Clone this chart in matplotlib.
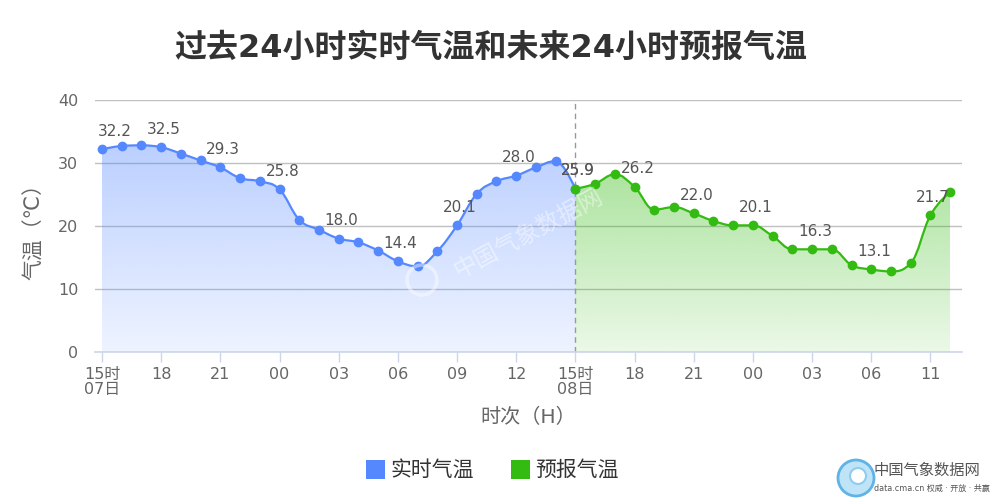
import numpy as np
import matplotlib
matplotlib.use('Agg')
import matplotlib.pyplot as plt
import matplotlib.path as mpath
from matplotlib.patches import PathPatch, Rectangle, Circle

plt.rcParams['font.family'] = ['DejaVu Sans', 'Noto Sans CJK SC']

# 实时气温 (07日15时 ~ 08日15时)
obs_temp = [32.2, 32.7, 32.8, 32.5, 31.5, 30.4, 29.3, 27.6, 27.1, 25.8,
            21.0, 19.4, 18.0, 17.4, 16.1, 14.4, 13.6, 16.0, 20.1, 25.1,
            27.1, 28.0, 29.3, 30.3, 25.9]
# 预报气温 (08日15时起)
fc_temp = [25.9, 26.7, 28.2, 26.2, 22.6, 23.0, 22.0, 20.8, 20.1, 20.1,
           18.4, 16.3, 16.3, 16.3, 13.8, 13.1, 12.8, 14.1, 21.7, 25.4]
tick_labels = ['15时\n07日', '18', '21', '00', '03', '06', '09', '12',
               '15时\n08日', '18', '21', '00', '03', '06', '11']

blue = '#5588ff'
green = '#33bb11'


def spline_path(xs, ys, smooth=1.5):
    # 类似 Highcharts 的 spline 控制点
    n = len(xs)
    lc = [None] * n
    rc = [None] * n
    d = smooth + 1
    for i in range(1, n - 1):
        px, py = xs[i], ys[i]
        lx, ly = xs[i - 1], ys[i - 1]
        nx, ny = xs[i + 1], ys[i + 1]
        lcx = (smooth * px + lx) / d
        lcy = (smooth * py + ly) / d
        rcx = (smooth * px + nx) / d
        rcy = (smooth * py + ny) / d
        corr = ((rcy - lcy) * (rcx - px)) / (rcx - lcx) + py - rcy
        lcy += corr
        rcy += corr
        if lcy > ly and lcy > py:
            lcy = max(ly, py)
            rcy = 2 * py - lcy
        elif lcy < ly and lcy < py:
            lcy = min(ly, py)
            rcy = 2 * py - lcy
        if rcy > py and rcy > ny:
            rcy = max(py, ny)
            lcy = 2 * py - rcy
        elif rcy < py and rcy < ny:
            rcy = min(py, ny)
            lcy = 2 * py - rcy
        lc[i] = (lcx, lcy)
        rc[i] = (rcx, rcy)
    verts = [(xs[0], ys[0])]
    codes = [mpath.Path.MOVETO]
    for i in range(1, n):
        c1 = rc[i - 1] if rc[i - 1] is not None else (xs[i - 1], ys[i - 1])
        c2 = lc[i] if lc[i] is not None else (xs[i], ys[i])
        verts += [c1, c2, (xs[i], ys[i])]
        codes += [mpath.Path.CURVE4] * 3
    return verts, codes


def draw_series(ax, xs, ys, color):
    verts, codes = spline_path(xs, ys)
    # 渐变填充
    fverts = verts + [(xs[-1], 0), (xs[0], 0), (xs[0], ys[0])]
    fcodes = codes + [mpath.Path.LINETO, mpath.Path.LINETO, mpath.Path.CLOSEPOLY]
    fill_path = mpath.Path(fverts, fcodes)
    rgb = matplotlib.colors.to_rgb(color)
    grad = np.zeros((256, 1, 4))
    grad[:, 0, :3] = rgb
    grad[:, 0, 3] = np.linspace(0.4, 0.1, 256)
    im = ax.imshow(grad, extent=(xs[0], xs[-1], 0, max(ys)), aspect='auto',
                   origin='upper', zorder=1, interpolation='bilinear')
    im.set_clip_path(fill_path, transform=ax.transData)
    ax.add_patch(PathPatch(mpath.Path(verts, codes), facecolor='none',
                           edgecolor=color, lw=1.6, zorder=3))
    ax.plot(xs, ys, 'o', color=color, markersize=6, zorder=4)


fig = plt.figure(figsize=(10, 5), dpi=100)
ax = fig.add_axes([0.095, 0.296, 0.867, 0.504])

x_obs = np.arange(len(obs_temp))
x_fc = np.arange(len(obs_temp) - 1, len(obs_temp) - 1 + len(fc_temp))

draw_series(ax, x_obs, obs_temp, blue)
draw_series(ax, x_fc, fc_temp, green)

# 数据标签(每3个点)
for xs, ys in [(x_obs, obs_temp), (x_fc, fc_temp)]:
    for k in range(0, len(ys), 3):
        if xs[k] == 0:
            ax.annotate(f'{ys[k]:.1f}', (xs[k], ys[k]), xytext=(-3, 13),
                        textcoords='offset points', ha='left', va='center',
                        fontsize=11, color='#555555', zorder=5)
        else:
            ax.annotate(f'{ys[k]:.1f}', (xs[k], ys[k]), xytext=(2, 13),
                        textcoords='offset points', ha='center', va='center',
                        fontsize=11, color='#555555', zorder=5)

ax.axvline(x_fc[0], color='#999999', lw=1, ls=(0, (4, 3)), zorder=2)

ax.set_xlim(-0.354, len(x_obs) - 1 + len(fc_temp) - 1 + 0.6)
ax.set_ylim(0, 40)
ax.set_yticks([0, 10, 20, 30, 40])
ax.set_xticks(np.arange(0, 3 * len(tick_labels), 3))
ax.set_xticklabels(tick_labels, linespacing=0.95)
ax.grid(axis='y', color='#c0c0c0', lw=1, zorder=0)
ax.set_axisbelow(True)
for s in ['top', 'right', 'left']:
    ax.spines[s].set_visible(False)
ax.spines['bottom'].set_color('#ccd6eb')
ax.spines['bottom'].set_linewidth(1.2)
ax.spines['bottom'].set_zorder(6)
ax.tick_params(axis='x', colors='#ccd6eb', length=7, width=1, labelcolor='#666666',
               labelsize=11.5, pad=4)
ax.tick_params(axis='y', length=0, labelcolor='#666666', labelsize=11.5, pad=12)

ax.set_xlabel('时次（H）', fontsize=14.5, color='#666666', labelpad=8)
ax.set_ylabel('气温（℃）', fontsize=15, color='#666666', labelpad=10)

fig.text(0.491, 0.904, '过去24小时实时气温和未来24小时预报气温', ha='center', va='center',
         fontsize=23, fontweight='bold', color='#333333')

# 水印
ax.text(0.5, 0.47, '中国气象数据网', transform=ax.transAxes, rotation=28,
        ha='center', va='center', fontsize=17, color='white', alpha=0.45, zorder=4)
fig.patches.append(Circle((4.22, 2.2), 0.15, transform=fig.dpi_scale_trans,
                          facecolor='none', edgecolor='white', lw=2.5, alpha=0.45))

# 图例
fig.patches.append(Rectangle((0.366, 0.042), 0.019, 0.038, transform=fig.transFigure,
                             facecolor=blue, edgecolor='none'))
fig.text(0.390, 0.061, '实时气温', ha='left', va='center', fontsize=15, color='#333333')
fig.patches.append(Rectangle((0.511, 0.042), 0.019, 0.038, transform=fig.transFigure,
                             facecolor=green, edgecolor='none'))
fig.text(0.535, 0.061, '预报气温', ha='left', va='center', fontsize=15, color='#333333')

# 右下角标识
fig.patches.append(Circle((8.56, 0.22), 0.18, transform=fig.dpi_scale_trans,
                          facecolor='#bfe4f8', edgecolor='#5fb3e6', lw=2))
fig.patches.append(Circle((8.58, 0.24), 0.08, transform=fig.dpi_scale_trans,
                          facecolor='white', edgecolor='#8fcdf0', lw=1.5))
fig.text(0.874, 0.060, '中国气象数据网', ha='left', va='center', fontsize=11, color='#555555')
fig.text(0.874, 0.024, 'data.cma.cn 权威 · 开放 · 共赢', ha='left', va='center',
         fontsize=5.8, color='#555555')

fig.savefig('out.png', dpi=100)
